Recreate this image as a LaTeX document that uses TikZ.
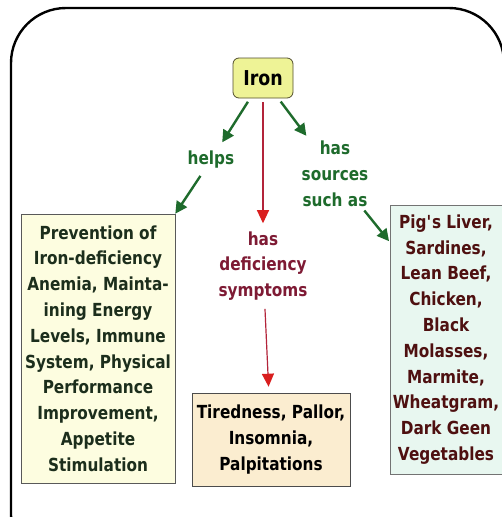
\documentclass[tikz,border=0pt]{standalone}
\usepackage{fontspec}
\setmainfont{DejaVu Sans}[FakeStretch=0.85]
\usepackage{tikz}
\usetikzlibrary{arrows.meta,positioning}
\definecolor{irongreen}{HTML}{1E6B2C}
\definecolor{ironred}{HTML}{B3243A}
\definecolor{tipred}{HTML}{D91E1E}
\definecolor{symred}{HTML}{7E1A34}
\definecolor{srcbrown}{HTML}{4E1010}
\definecolor{usetext}{HTML}{1C2E1C}
\definecolor{ironfill}{HTML}{EEF396}
\definecolor{usefill}{HTML}{FDFDE0}
\definecolor{symfill}{HTML}{FBEDD0}
\definecolor{srcfill}{HTML}{E8F7F0}
\tikzset{
mapfont/.style={font=\fontsize{18}{25.8}\selectfont\bfseries},
ironbox/.style={rectangle,rounded corners=6pt,draw=black!55!olive,thick,fill=ironfill,
  minimum width=60pt,minimum height=40pt,inner sep=0pt,align=center,
  font=\fontsize{20.5}{24}\selectfont\bfseries},
usebox/.style={rectangle,draw=black!65,semithick,fill=usefill,text=usetext,
  minimum width=154pt,minimum height=269pt,inner sep=0pt,mapfont,align=center},
symbox/.style={rectangle,draw=black!70,semithick,fill=symfill,
  minimum width=158pt,minimum height=93pt,inner sep=0pt,mapfont,align=center},
srcbox/.style={rectangle,draw=black!55,semithick,fill=srcfill,text=srcbrown,
  minimum width=112pt,minimum height=269pt,inner sep=0pt,mapfont,align=center},
linklbl/.style={inner sep=2pt,mapfont,align=center},
greenarr/.style={draw=irongreen,line width=2.4pt,-{Triangle[length=12pt,width=12pt]}},
redarr/.style={draw=ironred,line width=1.2pt,-{Triangle[length=13pt,width=12pt,color=tipred,fill=tipred]}}
}
\begin{document}
\begin{tikzpicture}[x=1pt,y=-1pt]
\useasboundingbox (0,0) rectangle (502,517);
\clip (0,0) rectangle (502,517);
\fill[white] (0,0) rectangle (502,517);
% frame
\draw[line width=2.4pt,rounded corners=55pt] (11,8) rectangle (504,570);

\node[ironbox] (iron) at (263,78) {Iron};
\node[linklbl,text=irongreen] (helps) at (211,160) {helps};
\node[linklbl,text=irongreen] (src) at (335,174) {has\\sources\\such as};
\node[linklbl,text=symred] (symp) at (263,266) {has\\deficiency\\symptoms};

\node[usebox] (use) at (98,348.5) {Prevention of\\Iron-deficiency\\Anemia, Mainta-\\ining Energy\\Levels, Immune\\System, Physical\\Performance\\Improvement,\\Appetite\\Stimulation};
\node[symbox] (tired) at (271,439.5) {Tiredness, Pallor,\\Insomnia,\\Palpitations};
\node[srcbox] (food) at (446,339.5) {Pig\textquotesingle s Liver,\\Sardines,\\Lean Beef,\\Chicken,\\Black\\Molasses,\\Marmite,\\Wheatgram,\\Dark Geen\\Vegetables};

\draw[greenarr,shorten <=4pt,shorten >=8pt] (iron) -- (helps);
\draw[greenarr,shorten <=6pt] (helps) -- (use.north east);
\draw[greenarr,shorten <=4pt,shorten >=4pt] (iron) -- (src);
\draw[greenarr,shorten <=2pt,shorten >=1pt] (src) -- (food.120);
\draw[redarr,shorten <=4pt,shorten >=6pt] (iron) -- (symp);
\draw[redarr,shorten <=6pt,shorten >=6pt] (symp) -- (tired);
\end{tikzpicture}
\end{document}
